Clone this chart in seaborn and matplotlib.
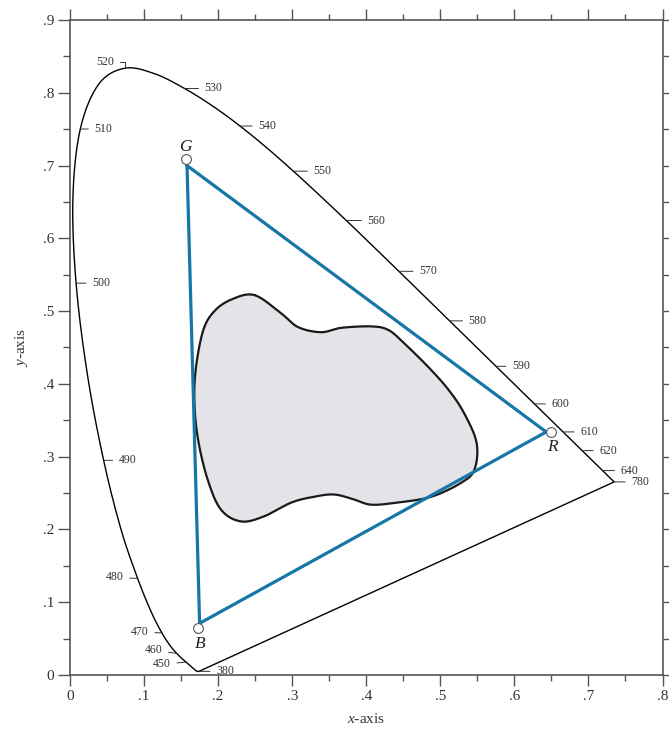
import numpy as np
import pandas as pd
import matplotlib
matplotlib.use("Agg")
import matplotlib.pyplot as plt
import seaborn as sns
from matplotlib.ticker import MultipleLocator

# ----------------------------
# Data: CIE 1931 spectral locus (x, y) by wavelength (nm)
# ----------------------------
wavelengths = [380, 385, 390, 395, 400, 405, 410, 415, 420, 425, 430, 435, 440,
               445, 450, 455, 460, 465, 470, 475, 480, 485, 490, 495, 500, 505,
               510, 515, 520, 525, 530, 535, 540, 545, 550, 555, 560, 565, 570,
               575, 580, 585, 590, 595, 600, 605, 610, 615, 620, 625, 630, 635,
               640, 645, 650, 660, 680, 700, 780]
locus_x = [0.1741, 0.1740, 0.1738, 0.1736, 0.1733, 0.1730, 0.1726, 0.1721, 0.1714,
           0.1703, 0.1689, 0.1669, 0.1644, 0.1611, 0.1566, 0.1510, 0.1440, 0.1355,
           0.1241, 0.1096, 0.0913, 0.0687, 0.0454, 0.0235, 0.0082, 0.0039, 0.0139,
           0.0389, 0.0743, 0.1142, 0.1547, 0.1929, 0.2296, 0.2658, 0.3016, 0.3373,
           0.3731, 0.4087, 0.4441, 0.4788, 0.5125, 0.5448, 0.5752, 0.6029, 0.6270,
           0.6482, 0.6658, 0.6801, 0.6915, 0.7006, 0.7079, 0.7140, 0.7190, 0.7230,
           0.7260, 0.7300, 0.7334, 0.7347, 0.7347]
locus_y = [0.0050, 0.0050, 0.0049, 0.0049, 0.0048, 0.0048, 0.0048, 0.0048, 0.0051,
           0.0058, 0.0069, 0.0086, 0.0109, 0.0138, 0.0177, 0.0227, 0.0297, 0.0399,
           0.0578, 0.0868, 0.1327, 0.2007, 0.2950, 0.4127, 0.5384, 0.6548, 0.7502,
           0.8120, 0.8338, 0.8262, 0.8059, 0.7816, 0.7543, 0.7243, 0.6923, 0.6589,
           0.6245, 0.5896, 0.5547, 0.5202, 0.4866, 0.4544, 0.4242, 0.3965, 0.3725,
           0.3514, 0.3340, 0.3197, 0.3083, 0.2993, 0.2920, 0.2859, 0.2809, 0.2770,
           0.2740, 0.2700, 0.2666, 0.2653, 0.2653]

# wavelength labels: text drawn to the right or to the left of the curve
labels_right = [380, 490, 500, 510, 530, 540, 550, 560, 570, 580, 590, 600, 610, 620, 640, 780]
labels_left = [450, 460, 470, 480]

# RGB gamut triangle (G, R, B) and the marker circles
tri_names = ["G", "R", "B"]
tri_x = [0.158, 0.643, 0.175]
tri_y = [0.700, 0.334, 0.071]
dot_x = [0.157, 0.649, 0.173]
dot_y = [0.709, 0.334, 0.064]

# gray gamut region outline (clockwise from top-left bump)
blob_x = [0.249, 0.285, 0.308, 0.339, 0.366, 0.407, 0.430, 0.451, 0.484, 0.511,
          0.532, 0.549, 0.546, 0.528, 0.488, 0.443, 0.407, 0.384, 0.357, 0.330,
          0.299, 0.262, 0.231, 0.204, 0.186, 0.173, 0.168, 0.170, 0.180, 0.195, 0.218]
blob_y = [0.522, 0.497, 0.478, 0.471, 0.477, 0.479, 0.474, 0.456, 0.423, 0.392,
          0.360, 0.319, 0.282, 0.264, 0.245, 0.237, 0.234, 0.241, 0.248, 0.245,
          0.237, 0.218, 0.211, 0.227, 0.268, 0.323, 0.374, 0.422, 0.474, 0.500, 0.516]


def catmull_rom(P, closed, n=16):
    # smooth curve through the given points
    P = np.asarray(P, dtype=float)
    m = len(P)
    if not closed:
        P = np.vstack([P[0], P, P[-1]])
    t = np.linspace(0, 1, n, endpoint=False)[:, None]
    segs = []
    rng = range(m) if closed else range(1, m)
    for i in rng:
        if closed:
            p0, p1, p2, p3 = P[i - 1], P[i], P[(i + 1) % m], P[(i + 2) % m]
        else:
            p0, p1, p2, p3 = P[i - 1], P[i], P[i + 1], P[i + 2]
        segs.append(0.5 * (2 * p1 + (-p0 + p2) * t
                           + (2 * p0 - 5 * p1 + 4 * p2 - p3) * t ** 2
                           + (-p0 + 3 * p1 - 3 * p2 + p3) * t ** 3))
    out = np.vstack(segs)
    end = out[:1] if closed else P[-2:-1]
    return np.vstack([out, end])


# ----------------------------
# Style
# ----------------------------
sns.set_theme(style="ticks")
plt.rcParams["font.family"] = ["Liberation Serif", "DejaVu Serif"]
plt.rcParams["mathtext.fontset"] = "custom"
plt.rcParams["mathtext.rm"] = "Liberation Serif"
plt.rcParams["mathtext.it"] = "Liberation Serif:italic"

AXC = "#555555"
TXT = "#333333"
BLUE = "#1676a6"

fig = plt.figure(figsize=(6.69, 7.30), dpi=100)
ax = fig.add_axes([70 / 669, 1 - 675 / 730, 592.5 / 669, 655 / 730])

# spectral locus, smoothed, closed with the straight line of purples
spec = catmull_rom(np.column_stack([locus_x[:-1], locus_y[:-1]]), closed=False)
spec = np.vstack([spec, [[locus_x[-1], locus_y[-1]], [locus_x[0], locus_y[0]]]])
locus = pd.DataFrame({"x": spec[:, 0], "y": spec[:, 1]})
sns.lineplot(data=locus, x="x", y="y", sort=False, estimator=None,
             color="black", lw=1.0, ax=ax)

# gray region
bx = catmull_rom(np.column_stack([blob_x, blob_y]), closed=True)
ax.fill(bx[:, 0], bx[:, 1], color="#e4e4e8", zorder=1)
ax.plot(bx[:, 0], bx[:, 1], color="#1a1a1a", lw=1.6, zorder=2)

# RGB triangle
tri = pd.DataFrame({"x": tri_x + [tri_x[0]], "y": tri_y + [tri_y[0]]})
sns.lineplot(data=tri, x="x", y="y", sort=False, estimator=None,
             color=BLUE, lw=2.3, ax=ax, zorder=3)
sns.scatterplot(x=dot_x, y=dot_y, s=50, color="white", edgecolor="#555555",
                linewidth=0.8, ax=ax, zorder=4)
name_off = {"G": (-1, 12), "R": (2, -15), "B": (2, -16)}
for nm, xx, yy in zip(tri_names, dot_x, dot_y):
    ax.annotate(nm, (xx, yy), xytext=name_off[nm], textcoords="offset pixels",
                ha="center", va="center", fontsize=12.5, fontstyle="italic",
                color="#222222")

# wavelength labels
lookup = dict(zip(wavelengths, zip(locus_x, locus_y)))
dx_right = {380: 17, 490: 15, 500: 16, 510: 14, 530: 20, 540: 18, 550: 20, 560: 21,
            570: 20, 580: 19, 590: 16, 600: 17, 610: 17, 620: 17, 640: 18, 780: 17}
dy_left = {450: -2, 460: 3, 470: 1, 480: 1}
dx_left = {450: -15, 460: -14, 470: -13, 480: -14}
lab_kw = dict(textcoords="offset pixels", va="center", fontsize=8.5, color=TXT,
              arrowprops=dict(arrowstyle="-", color=TXT, lw=0.7, shrinkA=2, shrinkB=0))
for w in labels_right:
    ax.annotate(str(w), lookup[w], xytext=(dx_right[w], 0), ha="left", **lab_kw)
for w in labels_left:
    ax.annotate(str(w), lookup[w], xytext=(dx_left[w], dy_left[w]), ha="right", **lab_kw)
ax.annotate("520", lookup[520], xytext=(-11, 6), textcoords="offset pixels",
            ha="right", va="center", fontsize=8.5, color=TXT,
            arrowprops=dict(arrowstyle="-", color=TXT, lw=0.7, shrinkA=2, shrinkB=0,
                            connectionstyle="angle,angleA=0,angleB=90,rad=0"))

# ----------------------------
# Axes
# ----------------------------
ax.set_xlim(0, 0.8)
ax.set_ylim(0, 0.9)
ax.xaxis.set_minor_locator(MultipleLocator(0.05))
ax.yaxis.set_minor_locator(MultipleLocator(0.05))


def fmt(v):
    return "0" if abs(v) < 1e-9 else ("%.1f" % v).lstrip("0")


xt = np.round(np.arange(0, 0.81, 0.1), 1)
yt = np.round(np.arange(0, 0.91, 0.1), 1)
ax.set_xticks(xt)
ax.set_xticklabels([fmt(v) for v in xt])
ax.set_yticks(yt)
ax.set_yticklabels([fmt(v) for v in yt])

for s in ax.spines.values():
    s.set_visible(True)
    s.set_color(AXC)
    s.set_linewidth(1.2)
ax.tick_params(which="both", direction="out", color=AXC, width=1.0,
               top=True, right=True, labelsize=11, labelcolor=TXT)
ax.tick_params(axis="y", which="major", length=8.5, pad=3)
ax.tick_params(axis="y", which="minor", length=5)
ax.tick_params(axis="x", which="major", length=8, pad=3)
ax.tick_params(axis="x", which="minor", length=4.5)
# right side: every tick the same length
for t in ax.yaxis.get_major_ticks() + ax.yaxis.get_minor_ticks():
    t.tick2line.set_markersize(6)

ax.set_xlabel("$x$-axis", fontsize=11, color=TXT, labelpad=6)
ax.set_ylabel("$y$-axis", fontsize=11, color=TXT, labelpad=9)

fig.savefig("out.png", dpi=100)
